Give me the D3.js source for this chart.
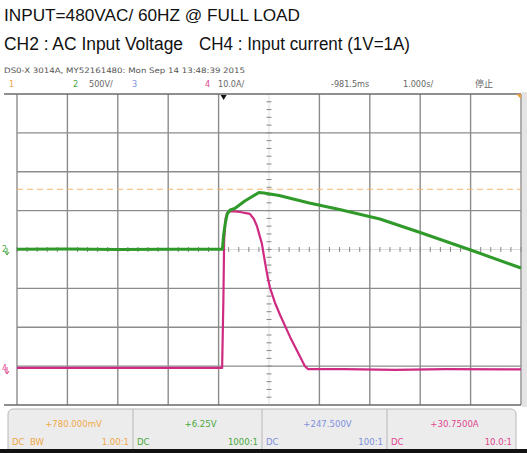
<!DOCTYPE html>
<html><head><meta charset="utf-8">
<script src="https://cdn.jsdelivr.net/npm/d3@7"></script>
<style>body{margin:0;background:#fff}svg{display:block}</style>
</head><body>
<svg id="c" width="527" height="453"></svg>
<script>
// ---------- data ----------
const titleLine = "INPUT=480VAC/ 60HZ @ FULL LOAD";
const channelNotes = ["CH2 : AC Input Voltage", "CH4 : Input current (1V=1A)"];
const scopeInfo = "DS0-X 3014A, MY52161480: Mon Sep 14 13:48:39 2015";
const chNumbers = ["1", "2", "3", "4"];
const chScales = ["", "500V/", "", "10.0A/"];
const timebaseLabels = ["-981.5ms", "1.000s/", "停止"];
const chOffsets = ["+780.000mV", "+6.25V", "+247.500V", "+30.7500A"];
const chCoupling = ["DC  BW", "DC", "DC", "DC"];
const chProbe = ["1.00:1", "1000:1", "100:1", "10.0:1"];
const timeDivs = [-5, -4, -3, -2, -1, 0, 1, 2, 3, 4, 5];
const vertDivs = [-4, -3, -2, -1, 0, 1, 2, 3, 4];
const ch2VoltsPerDiv = 500, ch2Offset = 6.25;
const ch4AmpsPerDiv = 10, ch4Offset = 30.75;
const ch1LevelDiv = 1.55;
// CH2 AC input voltage (V) vs time (s, relative to screen centre)
const ch2Time  = [-5, -4, -3, -2, -1, -0.925, -0.9, -0.87, -0.83, -0.77, -0.68, -0.48, -0.2, -0.1, 0.2, 0.8, 1.4, 2.2, 3.0, 4.0, 5.0];
const ch2Volts = [8, 12, 6, 10, 8, 10, 193, 334, 463, 514, 534, 630, 740, 733, 701, 604, 521, 399, 225, 0, -232];
// CH4 input current (A)
const ch4Time = [-5, -4, -3, -2, -1, -0.93, -0.905, -0.89, -0.86, -0.82, -0.75, -0.575, -0.38, -0.3, -0.24, -0.19, -0.14, -0.08, -0.02, 0.02, 0.12, 0.22, 0.42, 0.62, 0.71, 0.77, 1.5, 2.5, 3.5, 5];
const ch4Amps = [0.3, 0.3, 0.3, 0.3, 0.3, 0.3, 17.8, 33.2, 38.8, 40.4, 40.6, 40.4, 39.9, 38.6, 36.8, 34.5, 32.2, 27.5, 23.2, 20.9, 17.0, 13.9, 8.2, 3.1, 0.8, 0, 0, -0.2, 0, -0.1];

const chColors = ["#f0a848", "#4aa83c", "#8090dc", "#e0468e"];

// ---------- scales ----------
const svg = d3.select("#c");
const x = d3.scaleLinear().domain([-5, 5]).range([17, 521]);
const yDiv = d3.scaleLinear().domain([-4, 4]).range([405, 94]);
const yV = d3.scaleLinear().domain([ch2Offset - 4 * ch2VoltsPerDiv, ch2Offset + 4 * ch2VoltsPerDiv]).range([405, 94]);
const yA = d3.scaleLinear().domain([ch4Offset - 4 * ch4AmpsPerDiv, ch4Offset + 4 * ch4AmpsPerDiv]).range([405, 94]);

// ---------- header text ----------
svg.append("text").attr("x", 4).attr("y", 21).attr("font-family", "Liberation Sans, Arial").attr("font-size", 16.5)
  .attr("textLength", 296).attr("lengthAdjust", "spacingAndGlyphs").attr("fill", "#111").text(titleLine);
svg.append("text").attr("x", 4).attr("y", 50).attr("font-family", "Liberation Sans, Arial").attr("font-size", 18)
  .attr("textLength", 179).attr("lengthAdjust", "spacingAndGlyphs").attr("fill", "#111").text(channelNotes[0]);
svg.append("text").attr("x", 199).attr("y", 50).attr("font-family", "Liberation Sans, Arial").attr("font-size", 18)
  .attr("textLength", 211).attr("lengthAdjust", "spacingAndGlyphs").attr("fill", "#111").text(channelNotes[1]);
svg.append("text").attr("x", 4).attr("y", 73).attr("font-family", "DejaVu Sans Condensed, DejaVu Sans").attr("font-size", 7.5)
  .attr("textLength", 241).attr("lengthAdjust", "spacingAndGlyphs").attr("fill", "#555").text(scopeInfo);

const smallFont = "DejaVu Sans Condensed, DejaVu Sans";
const chNumX = [9, 73, 132, 205];
chNumbers.forEach((n, i) => {
  svg.append("text").attr("x", chNumX[i]).attr("y", 87).attr("font-family", smallFont).attr("font-size", 9)
    .attr("fill", chColors[i]).text(n);
});
const chScaleX = [0, 89, 0, 218];
chScales.forEach((s, i) => {
  if (!s) return;
  svg.append("text").attr("x", chScaleX[i]).attr("y", 87).attr("font-family", smallFont).attr("font-size", 9)
    .attr("fill", "#666").text(s);
});
const tbX = [331, 403, 475];
timebaseLabels.forEach((s, i) => {
  svg.append("text").attr("x", tbX[i]).attr("y", 87).attr("font-family", i === 2 ? "Noto Sans CJK SC" : smallFont)
    .attr("font-size", 9).attr("fill", "#666").text(s);
});

// ---------- graticule ----------
const g = svg.append("g");
// right side strip
g.append("rect").attr("x", 522).attr("y", 92).attr("width", 5).attr("height", 315).attr("fill", "#e4e4e4");
// vertical grid
g.selectAll("line.v").data(timeDivs.filter(d => d !== 0)).join("line")
  .attr("x1", d => x(d)).attr("x2", d => x(d)).attr("y1", yDiv(4)).attr("y2", yDiv(-4))
  .attr("stroke", "#8c8c8c").attr("stroke-width", 1.4);
// horizontal grid
g.selectAll("line.h").data(vertDivs.filter(d => d !== 0 && Math.abs(d) !== 4)).join("line")
  .attr("x1", x(-5)).attr("x2", x(5)).attr("y1", d => yDiv(d)).attr("y2", d => yDiv(d))
  .attr("stroke", "#8c8c8c").attr("stroke-width", 1.4);
// top / bottom borders
[4, -4].forEach(d => {
  g.append("line").attr("x1", 4).attr("x2", x(5)).attr("y1", yDiv(d)).attr("y2", yDiv(d))
    .attr("stroke", "#6a6a6a").attr("stroke-width", 1.6);
});
// centre axes with minor ticks
g.append("line").attr("x1", x(-5)).attr("x2", x(5)).attr("y1", yDiv(0)).attr("y2", yDiv(0))
  .attr("stroke", "#c8c8c8").attr("stroke-width", 0.6);
g.append("line").attr("x1", x(0)).attr("x2", x(0)).attr("y1", yDiv(4)).attr("y2", yDiv(-4))
  .attr("stroke", "#c8c8c8").attr("stroke-width", 0.6);
const minorT = d3.range(-5, 5.001, 0.2);
g.selectAll("line.tx").data(minorT).join("line")
  .attr("x1", d => x(d)).attr("x2", d => x(d)).attr("y1", yDiv(0) - 2.5).attr("y2", yDiv(0) + 2.5)
  .attr("stroke", "#888").attr("stroke-width", 1);
const minorV = d3.range(-4, 4.001, 0.2);
g.selectAll("line.ty").data(minorV).join("line")
  .attr("x1", x(0) - 2.5).attr("x2", x(0) + 2.5).attr("y1", d => yDiv(d)).attr("y2", d => yDiv(d))
  .attr("stroke", "#888").attr("stroke-width", 1);

// trigger position marker
const trigT = -0.9;
g.append("path").attr("d", `M${x(trigT) - 3},${yDiv(4) + 1}L${x(trigT) + 3},${yDiv(4) + 1}L${x(trigT)},${yDiv(4) + 6}Z`).attr("fill", "#111");
// orange corner marker
g.append("path").attr("d", `M${x(5) - 5},${yDiv(4)}L${x(5)},${yDiv(4)}L${x(5)},${yDiv(4) + 5}Z`).attr("fill", "#e8a040");

// CH1 level (dashed)
g.append("line").attr("x1", x(-5)).attr("x2", x(5)).attr("y1", yDiv(ch1LevelDiv)).attr("y2", yDiv(ch1LevelDiv))
  .attr("stroke", "#f3b568").attr("stroke-width", 1.1).attr("stroke-dasharray", "6,4");

// ---------- traces ----------
const ch4Line = d3.line().x((d, i) => x(ch4Time[i])).y(d => yA(d));
const ch2Line = d3.line().x((d, i) => x(ch2Time[i])).y(d => yV(d));
svg.append("path").attr("d", ch4Line(ch4Amps)).attr("fill", "none").attr("stroke", "#cf2a82").attr("stroke-width", 2.2)
  .attr("stroke-linejoin", "round");
svg.append("path").attr("d", ch2Line(ch2Volts)).attr("fill", "none").attr("stroke", "#2f9a2a").attr("stroke-width", 3)
  .attr("stroke-linejoin", "round");

// ground markers
[[yV(0), "2", chColors[1]], [yA(0), "4", chColors[3]]].forEach(([yy, t, c]) => {
  svg.append("text").attr("x", 2).attr("y", yy + 2).attr("font-family", smallFont).attr("font-size", 8.5).attr("fill", c).text(t);
  svg.append("path").attr("d", `M7,${yy - 2}L7,${yy + 4}M5,${yy + 2}L7,${yy + 5}L9,${yy + 2}`).attr("stroke", c).attr("fill", "none").attr("stroke-width", 1);
});

// ---------- channel info panel ----------
svg.append("rect").attr("x", 8).attr("y", 409).attr("width", 508).attr("height", 52).attr("rx", 5)
  .attr("fill", "#ececec").attr("stroke", "#b8b8b8");
const panelEdges = [8, 133, 262, 387, 516];
panelEdges.slice(1, 4).forEach(px => {
  svg.append("line").attr("x1", px).attr("x2", px).attr("y1", 409).attr("y2", 452).attr("stroke", "#b8b8b8");
});
chOffsets.forEach((s, i) => {
  const cx = (panelEdges[i] + panelEdges[i + 1]) / 2 + 3;
  svg.append("text").attr("x", cx).attr("y", 427).attr("text-anchor", "middle").attr("font-family", smallFont)
    .attr("font-size", 9.5).attr("fill", chColors[i]).text(s);
  svg.append("text").attr("x", panelEdges[i] + 4).attr("y", 445).attr("font-family", smallFont)
    .attr("font-size", 9.5).attr("fill", chColors[i]).attr("xml:space", "preserve").style("white-space", "pre").text(chCoupling[i]);
  svg.append("text").attr("x", panelEdges[i + 1] - 4).attr("y", 445).attr("text-anchor", "end").attr("font-family", smallFont)
    .attr("font-size", 9.5).attr("fill", chColors[i]).text(chProbe[i]);
});
svg.append("rect").attr("x", 0).attr("y", 449).attr("width", 527).attr("height", 4).attr("fill", "#111");
</script>
</body></html>
